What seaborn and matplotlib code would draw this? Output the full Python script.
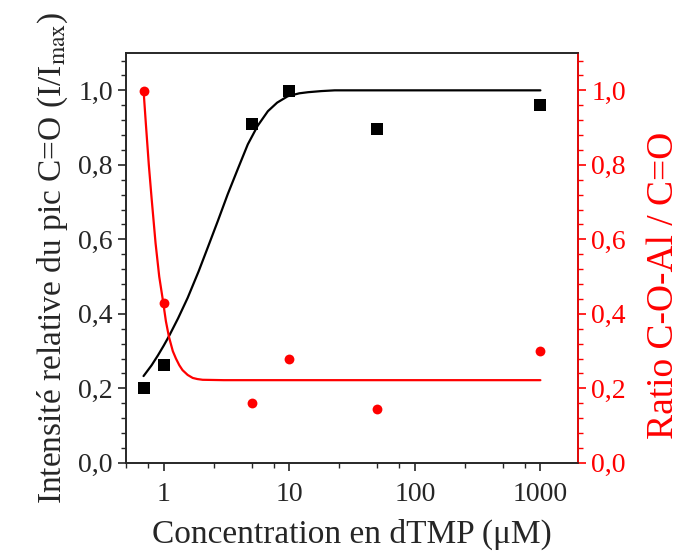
import numpy as np
import pandas as pd
import matplotlib.pyplot as plt
import matplotlib.ticker as mticker
import seaborn as sns

# measured points
conc = [0.7, 1, 5, 10, 50, 1000]
intensity = [0.202, 0.264, 0.91, 0.998, 0.897, 0.96]
ratio = [0.999, 0.43, 0.162, 0.278, 0.144, 0.30]

# fitted curves
fit_int_x = [0.69, 0.8, 0.9, 1.0, 1.1, 1.3, 1.55, 1.9, 2.24, 2.7, 3.23, 3.9, 4.67,
             5.6, 6.75, 8.0, 9.7, 12, 14.1, 18, 23, 50, 200, 1000]
fit_int_y = [0.233, 0.262, 0.289, 0.315, 0.340, 0.388, 0.443, 0.515, 0.578, 0.65, 0.721, 0.79, 0.855,
             0.905, 0.944, 0.967, 0.984, 0.992, 0.995, 0.998, 1.0, 1.0, 1.0, 1.0]
fit_ratio_x = [0.69, 0.72, 0.76, 0.80, 0.86, 0.92, 0.98, 1.04, 1.10, 1.18, 1.25, 1.33,
               1.41, 1.55, 1.70, 1.85, 2.04, 3, 10, 100, 1000]
fit_ratio_y = [1.0, 0.91, 0.80, 0.71, 0.59, 0.50, 0.44, 0.38, 0.338, 0.30, 0.280, 0.262,
               0.249, 0.236, 0.228, 0.225, 0.223, 0.222, 0.222, 0.222, 0.222]

sns.set_style("ticks")
plt.rcParams["font.family"] = ["Liberation Serif", "DejaVu Serif"]
plt.rcParams["mathtext.fontset"] = "stix"

fig = plt.figure(figsize=(6.81, 5.53), dpi=100)
ax = fig.add_axes([0.185, 0.163, 0.664, 0.741])
ax2 = ax.twinx()

df = pd.DataFrame({"conc": conc, "intensity": intensity, "ratio": ratio})
sns.lineplot(x=fit_int_x, y=fit_int_y, ax=ax, color="black", linewidth=1.6)
sns.scatterplot(data=df, x="conc", y="intensity", ax=ax, marker="s", s=65,
                color="black", edgecolor="black", linewidth=0, zorder=3)
sns.lineplot(x=fit_ratio_x, y=fit_ratio_y, ax=ax2, color="red", linewidth=1.6)
sns.scatterplot(data=df, x="conc", y="ratio", ax=ax2, marker="o", s=50,
                color="red", edgecolor="red", linewidth=0, zorder=3)

ax.set_xscale("log")
ax.set_xlim(0.5, 2000)
ax.set_ylim(0, 1.1)
ax2.set_ylim(0, 1.1)

ax.xaxis.set_major_locator(mticker.FixedLocator([1, 10, 100, 1000]))
ax.xaxis.set_major_formatter(mticker.FixedFormatter(["1", "10", "100", "1000"]))
ax.xaxis.set_minor_locator(mticker.LogLocator(base=10, subs=[2.5, 5, 7.5]))
ax.xaxis.set_minor_formatter(mticker.NullFormatter())

comma = mticker.FuncFormatter(lambda v, p: f"{v:.1f}".replace(".", ","))
for a in (ax, ax2):
    a.yaxis.set_major_locator(mticker.MultipleLocator(0.2))
    a.yaxis.set_minor_locator(mticker.MultipleLocator(0.04))
    a.yaxis.set_major_formatter(comma)
    a.tick_params(which="major", length=6, width=1.2, labelsize=20)
    a.tick_params(which="minor", length=3.5, width=1)
    for s in a.spines.values():
        s.set_linewidth(1.2)

ax.tick_params(axis="x", which="major", pad=8)
ax2.tick_params(axis="y", which="both", colors="red")
ax2.spines["right"].set_color("red")

ax.set_xlabel("Concentration en dTMP (μM)", fontsize=24, labelpad=8)
ax.set_ylabel("Intensité relative du pic C=O (I/I$_{\\rm max}$)", fontsize=24, labelpad=6)
ax2.set_ylabel("Ratio C-O-Al / C=O", fontsize=27, color="red")
ax2.yaxis.set_label_coords(1.152, 0.434)

plt.savefig("out.png", dpi=100)
